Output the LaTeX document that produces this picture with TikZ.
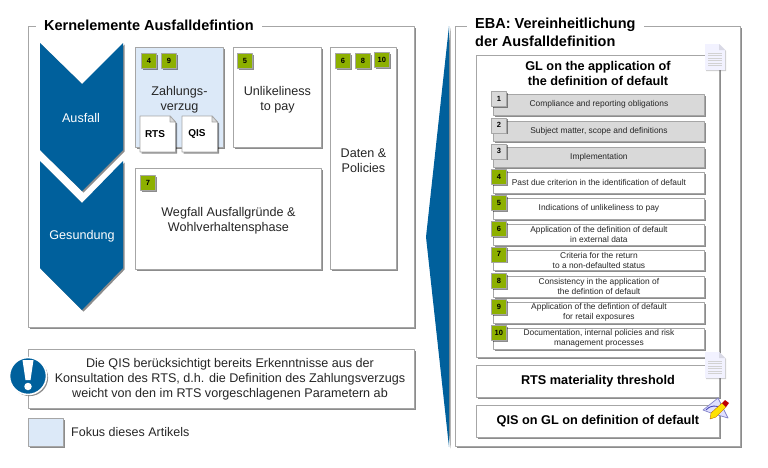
\documentclass[tikz,border=0pt]{standalone}
\usepackage{fontspec}
\setmainfont{Liberation Sans}
\usetikzlibrary{shadows}
\definecolor{ebablue}{HTML}{00609C}
\definecolor{ebagreen}{HTML}{8DB000}
\definecolor{focusblue}{HTML}{DCE9F8}
\definecolor{rowgrey}{HTML}{D9D9D9}
\definecolor{edgegrey}{HTML}{A6A6A6}
\definecolor{inkgrey}{HTML}{262626}
\newcommand{\boxlift}{\rule{0pt}{13pt}}
\tikzset{
	softshadow/.style={drop shadow={shadow xshift=1.6pt,shadow yshift=-1.6pt,opacity=.45,fill=black}},
	box/.style={draw=edgegrey,line width=.9pt,fill=white,softshadow,anchor=north west,align=center,inner sep=0pt,text=inkgrey},
	badge/.style={draw=edgegrey,line width=.7pt,anchor=north west,minimum size=15pt,inner sep=0pt,softshadow,font=\fontsize{7.5}{8}\selectfont\bfseries,text=black},
	greenbadge/.style={badge,fill=ebagreen},
	greybadge/.style={badge,fill=rowgrey},
	sheet/.style={draw=edgegrey,line width=.9pt,fill=white,softshadow},
	heading/.style={anchor=west,fill=white,inner xsep=0pt,inner ysep=1pt,align=left,font=\fontsize{14.5}{17.5}\selectfont\bfseries,text=black},
	boxtext/.style={font=\fontsize{12.6}{15}\selectfont},
	rowtext/.style={font=\fontsize{8.4}{10}\selectfont},
	bigtext/.style={font=\fontsize{12.7}{15}\selectfont\bfseries,text=black},
	pics/pagesheet/.style={code={
		\fill[drop shadow={shadow xshift=1pt,shadow yshift=-1pt,opacity=.2,fill=black},fill=white!95!blue] (0,0)--(14,0)--(20,-6)--(20,-26)--(0,-26)--cycle;
		\fill[blue!20!gray!25] (14,0)--(14,-6)--(20,-6)--cycle;
		\foreach \l in {-9,-11.5,-14,-16.5,-19,-21.5}
			\draw[gray!35,line width=.8pt] (3,\l)--(17,\l);
	}}
}
\begin{document}
\begin{tikzpicture}[x=1pt,y=1pt,line join=round]
	\useasboundingbox (0,0) rectangle (768,-467);
	%% left frame
	\node[box,minimum width=386pt,minimum height=301pt] (leftframe) at (28,-26) {};
	\node[heading,inner xsep=8pt] (lefttitle) at (36,-25) {Kernelemente Ausfalldefintion};
	%% chevrons
	\fill[ebablue,softshadow] (40,-43)--(82,-84)--(123,-43)--(123,-150)--(82,-191)--(40,-150)--cycle;
	\fill[ebablue,softshadow] (40,-161)--(82,-203)--(123,-161)--(123,-268)--(82,-310)--(40,-268)--cycle;
	\node[white,boxtext] (ausfall) at (81,-117.5) {Ausfall};
	\node[white,boxtext] (gesundung) at (82,-236.5) {Gesundung};
	%% boxes
	\node[box,boxtext,fill=focusblue,minimum width=88pt,minimum height=100pt] (zahlung) at (135,-47) {\boxlift Zahlungs-\\verzug};
	\node[box,boxtext,minimum width=88pt,minimum height=100pt] (unlikely) at (233,-47) {\boxlift Unlikeliness\\to pay};
	\node[box,boxtext,minimum width=66pt,minimum height=222pt] (daten) at (330,-47) {\boxlift Daten \&\\Policies};
	\node[box,boxtext,minimum width=186pt,minimum height=101pt] (wegfall) at (135,-168) {\boxlift Wegfall Ausfallgründe \&\\Wohlverhaltensphase};
	%% small documents
	\foreach \name/\x in {RTS/140,QIS/182}{
		\draw[sheet] (\x,-116)--(\x+30,-116)--(\x+35.5,-122)--(\x+35.5,-152)--(\x,-152)--cycle;
		\draw[edgegrey,line width=.7pt,fill=rowgrey] (\x+30,-116)--(\x+30,-122)--(\x+35.5,-122)--cycle;
		\node[font=\fontsize{10}{12}\selectfont\bfseries] (doc\name) at (\x+15,-134) {\name};
	}
	%% badges of the boxes
	\foreach \n/\x/\y in {4/141/53,9/161/53,5/237/53,6/335/53,8/355/53,10/374/52,7/140/175}
		\node[greenbadge] (tag\n) at (\x,-\y) {\n};
	%% notice
	\node[box,minimum width=386pt,minimum height=59pt] (notice) at (28,-349) {};
	\node[align=center,inner sep=0pt,font=\fontsize{12.6}{15}\selectfont,text=inkgrey] (noticetext) at (230,-379.5) {Die QIS berücksichtigt bereits Erkenntnisse aus der\\Konsultation des RTS, d.h. die Definition des Zahlungsverzugs\\weicht von den im RTS vorgeschlagenen Parametern ab};
	\node[circle,fill=ebablue,draw=white,line width=1.6pt,minimum size=37pt,inner sep=0pt,softshadow] (alert) at (28,-376) {};
	\fill[white] (22.5,-360)--(33.5,-360)--(30.5,-380)--(25.5,-380)--cycle;
	\node[circle,fill=white,minimum size=7.5pt,inner sep=0pt] (alertdot) at (28,-386.5) {};
	%% legend
	\node[box,fill=focusblue,minimum width=35pt,minimum height=28pt] (legend) at (28,-418) {};
	\node[anchor=west,inner sep=0pt,font=\fontsize{12.5}{14}\selectfont,text=inkgrey] (legendtext) at (71,-432) {Fokus dieses Artikels};
	%% right side
	\fill[ebablue,softshadow] (449,-26)--(426,-237)--(449,-447)--cycle;
	\node[box,minimum width=285pt,minimum height=420pt] (rightframe) at (455,-26) {};
	\node[heading,inner xsep=8pt,anchor=north west] (righttitle) at (467,-17) {EBA: Vereinheitlichung\\der Ausfalldefinition};
	\node[box,minimum width=243pt,minimum height=302pt] (glbox) at (476,-55) {};
	\node[bigtext,align=center] (gltitle) at (598,-73.5) {GL on the application of\\the definition of default};
	%% rows
	\foreach \n/\y/\rowcol/\tagstyle/\txt in {
		1/94/rowgrey/greybadge/{Compliance and reporting obligations},
		2/120.5/rowgrey/greybadge/{Subject matter, scope and definitions},
		3/146.5/rowgrey/greybadge/{Implementation},
		4/172/white/greenbadge/{Past due criterion in the identification of default},
		5/198/white/greenbadge/{Indications of unlikeliness to pay},
		6/224/white/greenbadge/{Application of the definition of default\\in external data},
		7/249.5/white/greenbadge/{Criteria for the return\\to a non-defaulted status},
		8/276/white/greenbadge/{Consistency in the application of\\the defintion of default},
		9/302/white/greenbadge/{Application of the defintion of default\\for retail exposures},
		10/328/white/greenbadge/{Documentation, internal policies and risk\\management processes}}{
		\node[box,rowtext,fill=\rowcol,minimum width=211pt,minimum height=20.5pt] (row\n) at (493,-\y) {\txt};
		\node[\tagstyle] (num\n) at (491,-\y+3) {\n};
	}
	%% lower boxes
	\node[box,bigtext,minimum width=243pt,minimum height=32pt] (rtsbox) at (476,-365) {RTS materiality threshold};
	\node[box,bigtext,minimum width=243pt,minimum height=32pt] (qisbox) at (476,-405) {QIS on GL on definition of default};
	%% icons
	\pic at (705,-44) {pagesheet};
	\pic at (705,-352) {pagesheet};
	\draw[gray!60!blue!70,line width=.7pt,fill=white!88!blue] (703,-410)--(718,-398)--(728,-418)--(711,-413)--cycle;
	\draw[blue!45!gray,line width=.9pt] (706,-410) arc (140:40:11);
	\fill[yellow!85!orange,draw=orange!70!black,line width=.3pt] (710,-419)--(711,-413)--(722,-403)--(726,-407)--(716,-417)--cycle;
	\fill[red!75!black] (722,-403)--(725,-400)--(729,-403)--(726,-407)--cycle;
\end{tikzpicture}
\end{document}
